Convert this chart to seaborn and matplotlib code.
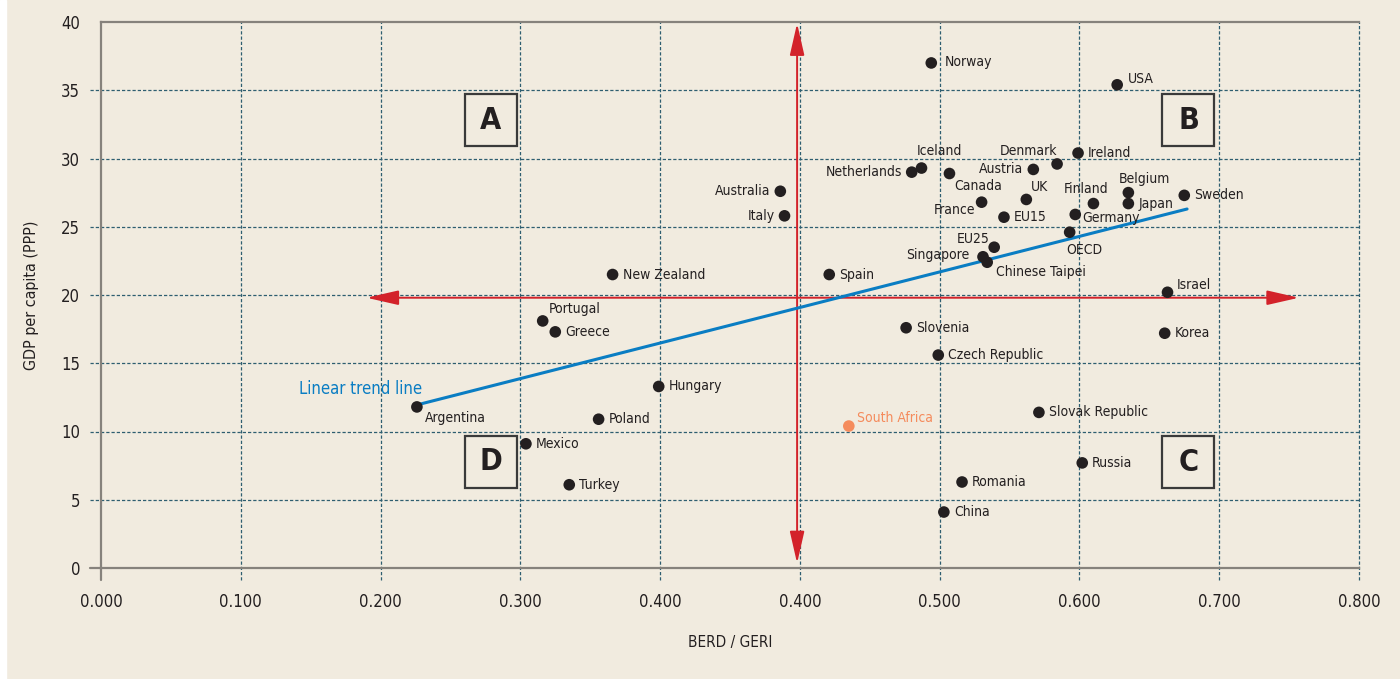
import numpy as np
import pandas as pd
import matplotlib.pyplot as plt
from matplotlib.patches import Rectangle
import seaborn as sns

# values
countries = ['Norway', 'USA', 'Ireland', 'Iceland', 'Netherlands', 'Denmark', 'Austria',
             'Canada', 'Australia', 'Italy', 'Belgium', 'Sweden', 'Japan', 'Finland', 'UK',
             'France', 'EU15', 'Germany', 'OECD', 'EU25', 'Singapore', 'Chinese Taipei',
             'Spain', 'New Zealand', 'Israel', 'Portugal', 'Greece', 'Slovenia', 'Korea',
             'Czech Republic', 'Hungary', 'Argentina', 'Poland', 'Slovak Republic',
             'South Africa', 'Mexico', 'Russia', 'Turkey', 'Romania', 'China']
berd_geri = [0.594, 0.727, 0.699, 0.587, 0.580, 0.684, 0.667,
             0.607, 0.486, 0.489, 0.735, 0.775, 0.735, 0.710, 0.662,
             0.630, 0.646, 0.697, 0.693, 0.639, 0.631, 0.634,
             0.521, 0.366, 0.763, 0.316, 0.325, 0.576, 0.761,
             0.599, 0.399, 0.226, 0.356, 0.671,
             0.535, 0.304, 0.702, 0.335, 0.616, 0.603]
gdp_pc = [37.0, 35.4, 30.4, 29.3, 29.0, 29.6, 29.2,
          28.9, 27.6, 25.8, 27.5, 27.3, 26.7, 26.7, 27.0,
          26.8, 25.7, 25.9, 24.6, 23.5, 22.8, 22.4,
          21.5, 21.5, 20.2, 18.1, 17.3, 17.6, 17.2,
          15.6, 13.3, 11.8, 10.9, 11.4,
          10.4, 9.1, 7.7, 6.1, 6.3, 4.1]
highlight = 'South Africa'

trend_x = [0.228, 0.777]
trend_y = [12.0, 26.3]

split_x = 0.498
split_y = 19.8

x_ticks = [0.0, 0.1, 0.2, 0.3, 0.4, 0.5, 0.6, 0.7, 0.8, 0.9]
x_tick_labels = ['0.000', '0.100', '0.200', '0.300', '0.400', '0.400',
                 '0.500', '0.600', '0.700', '0.800']
y_ticks = [0, 5, 10, 15, 20, 25, 30, 35, 40]

quadrants = ['A', 'B', 'C', 'D']
quad_x = [0.279, 0.778, 0.778, 0.279]
quad_y = [32.8, 32.8, 7.75, 7.8]

# label placement (pixels from the dot, alignment); default is right of the dot
label_offsets = {
    'Iceland': (18, 17, 'center'), 'Netherlands': (-10, 0, 'right'),
    'Denmark': (-29, 13, 'center'), 'Austria': (-10, 0, 'right'),
    'Canada': (5, -12, 'left'), 'Australia': (-10, 0, 'right'),
    'Italy': (-10, 0, 'right'), 'UK': (5, 12, 'left'),
    'Finland': (-7, 15, 'center'), 'Belgium': (16, 14, 'center'),
    'France': (-6, -8, 'right'), 'Germany': (7, -4, 'left'),
    'OECD': (15, -18, 'center'), 'EU25': (-21, 8, 'center'),
    'Singapore': (-14, 2, 'right'), 'Chinese Taipei': (9, -10, 'left'),
    'Israel': (9, 7, 'left'), 'Portugal': (6, 12, 'left'),
    'Argentina': (8, -11, 'left'), 'South Africa': (8, 8, 'left'),
    'USA': (11, 6, 'left'), 'Norway': (13, 1, 'left'),
}

bg = '#F1EBDF'
ink = '#231F20'
grid_col = '#2E5E70'
axis_col = '#86827C'
blue = '#0A7DC3'
red = '#D3222A'
orange = '#F58B5C'

df = pd.DataFrame({'country': countries, 'berd_geri': berd_geri, 'gdp': gdp_pc})
df['group'] = np.where(df['country'] == highlight, 'hl', 'other')

sns.set_theme(style='white', rc={'axes.facecolor': bg, 'figure.facecolor': bg})
plt.rcParams['font.family'] = ['DejaVu Sans']
plt.rcParams['font.stretch'] = 'condensed'

fig = plt.figure(figsize=(14, 6.79), dpi=100)
fig.patches.append(Rectangle((0, 0), 6 / 1400, 1, transform=fig.transFigure,
                             color='white', zorder=0))
ax = fig.add_axes([101 / 1400, 1 - 568 / 679, 1258 / 1400, 546 / 679])

ax.set_xlim(0, 0.9)
ax.set_ylim(0, 40)

dash = (0, (2.6, 1.6))
for xv in x_ticks[1:]:
    ax.axvline(xv, ymin=-0.022, ymax=1, color=grid_col, lw=0.9, ls=dash, clip_on=False, zorder=1)
for yv in y_ticks[1:-1]:
    ax.axhline(yv, xmin=-0.009, xmax=1, color=grid_col, lw=0.9, ls=dash, clip_on=False, zorder=1)
ax.axvline(0, ymin=-0.022, ymax=0, color=axis_col, lw=1.6, clip_on=False)
ax.axhline(0, xmin=-0.009, xmax=0, color=axis_col, lw=1.6, clip_on=False)

for s in ['left', 'bottom', 'top']:
    ax.spines[s].set_color(axis_col)
    ax.spines[s].set_linewidth(1.6)
ax.spines['right'].set_visible(False)

# quadrant split arrows
arrow_kw = dict(arrowstyle='<|-|>,head_length=1.4,head_width=0.32', color=red, lw=1.4,
                mutation_scale=14, shrinkA=0, shrinkB=0)
ax.annotate('', xy=(split_x, 39.9), xytext=(split_x, 0.35), arrowprops=arrow_kw, zorder=2)
ax.annotate('', xy=(0.857, split_y), xytext=(0.19, split_y), arrowprops=arrow_kw, zorder=2)

sns.lineplot(x=trend_x, y=trend_y, color=blue, lw=2.2, ax=ax, zorder=3)
ax.text(0.230, 13.1, 'Linear trend line', color=blue, fontsize=12, ha='right', va='center')

sns.scatterplot(data=df, x='berd_geri', y='gdp', hue='group',
                palette={'other': ink, 'hl': orange}, s=70, linewidth=0,
                legend=False, ax=ax, zorder=4)

for c, xv, yv in zip(countries, berd_geri, gdp_pc):
    dx, dy, ha = label_offsets.get(c, (10, 0, 'left'))
    ax.annotate(c, (xv, yv), xytext=(dx, dy), textcoords='offset pixels',
                ha=ha, va='center', fontsize=10,
                color=orange if c == highlight else ink, zorder=5)

# quadrant letters in boxes
bw, bh = 52 / 1398, 52 / 13.65
for q, xv, yv in zip(quadrants, quad_x, quad_y):
    ax.add_patch(Rectangle((xv - bw / 2, yv - bh / 2), bw, bh, fill=False,
                           ec='#3A3A3A', lw=1.6, zorder=5))
    ax.text(xv, yv, q, fontsize=22, fontweight='bold', color=ink,
            ha='center', va='center', zorder=6)

ax.set_xticks(x_ticks)
ax.set_xticklabels(x_tick_labels)
ax.set_yticks(y_ticks)
ax.tick_params(axis='both', length=0, labelsize=12, colors=ink)
ax.tick_params(axis='x', pad=18)
ax.tick_params(axis='y', pad=15)

ax.set_xlabel('BERD / GERI', fontsize=11, color=ink, labelpad=17)
ax.set_ylabel('GDP per capita (PPP)', fontsize=11.5, color=ink, labelpad=16)

fig.savefig('out.png', dpi=100, facecolor=bg)
